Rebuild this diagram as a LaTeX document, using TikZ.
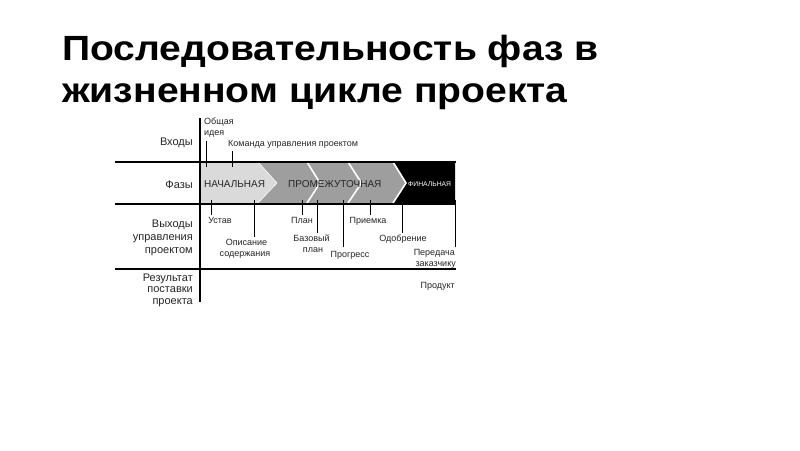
\documentclass[tikz,border=0pt]{standalone}
\usepackage{fontspec}
\setmainfont{Liberation Sans}
\definecolor{lightph}{RGB}{218,218,218}
\definecolor{midph}{RGB}{158,158,158}
\begin{document}
\begin{tikzpicture}[x=1pt,y=-1pt,
  title/.style={font=\fontsize{35}{37}\selectfont\bfseries, inner sep=0pt, anchor=base west},
  rowlbl/.style={font=\fontsize{11}{12}\selectfont, inner sep=0pt, anchor=base east, text=black!85},
  small/.style={font=\fontsize{9}{10}\selectfont, inner sep=0pt, anchor=base, text=black!85},
  phase/.style={font=\fontsize{10}{11}\selectfont, inner sep=0pt, anchor=base west, text=black!85},
  tickline/.style={line width=1pt, black},
  thick rule/.style={line width=2pt, black},
  thin rule/.style={line width=1.3pt, black},
  chev/.style={white, line width=1.6pt}]
\useasboundingbox[fill=white] (0,0) rectangle (800,450);

% title
\node[title] (t1) at (62,60) {\scalebox{1.117}[1]{Последовательность фаз в}};
\node[title] (t2) at (62,102) {\scalebox{1.117}[1]{жизненном цикле проекта}};

% phase band
\fill[lightph] (200,162) -- (258,162) -- (277,183) -- (258,203) -- (200,203) -- cycle;
\fill[midph] (258,162) -- (393,162) -- (406,183) -- (393,203) -- (258,203) -- (277,183) -- cycle;
\fill[black] (393,162) -- (455,162) -- (455,203) -- (393,203) -- (406,183) -- cycle;
\draw[white, line width=0.6pt] (258,162) -- (277,183) -- (258,203);
\draw[chev] (307,162) -- (320,183) -- (307,203);
\draw[chev] (348,162) -- (361.5,183) -- (348,203);
\draw[chev] (393,162) -- (406,183) -- (393,203);

% rules
\coordinate (r1a) at (115,161.5); \coordinate (r1b) at (456,161.5);
\coordinate (r2a) at (115,204);   \coordinate (r2b) at (456,204);
\coordinate (r3a) at (115,269);   \coordinate (r3b) at (456,269);
\coordinate (va) at (200,118);    \coordinate (vb) at (200,302);
\draw[thick rule] (r1a) -- (r1b);
\draw[thick rule] (r2a) -- (r2b);
\draw[thin rule] (r3a) -- (r3b);
\draw[thin rule] (va) -- (vb);

% row labels
\node[rowlbl] (inp) at (193,145) {Входы};
\node[rowlbl] (fz) at (193,188) {Фазы};
\node[rowlbl] (o1) at (193,227) {Выходы};
\node[rowlbl] (o2) at (193,240) {управления};
\node[rowlbl] (o3) at (193,253) {проектом};
\node[rowlbl] (p1) at (193,281) {Результат};
\node[rowlbl] (p2) at (193,292.5) {поставки};
\node[rowlbl] (p3) at (193,304) {проекта};

% phase labels
\node[phase] (ph1) at (204,187.5) {НАЧАЛЬНАЯ};
\node[phase] (ph2) at (288,187.5) {ПРОМЕЖУТОЧНАЯ};
\node[font=\fontsize{6.8}{7}\selectfont, inner sep=0pt, anchor=base west, text=white] (ph3) at (408,186.5) {ФИНАЛЬНАЯ};

% inputs
\node[small, anchor=base west] (idea1) at (204,124.5) {Общая};
\node[small, anchor=base west] (idea2) at (204,135.5) {идея};
\node[small, anchor=base west] (team) at (228,146.5) {Команда управления проектом};
\coordinate (ideaT) at (206,141); \coordinate (ideaB) at (206,167);
\coordinate (teamT) at (232,151); \coordinate (teamB) at (232,167);
\draw[tickline] (ideaT) -- (ideaB);
\draw[tickline] (teamT) -- (teamB);

% outputs
\node[small] (ust) at (220,223.5) {Устав};
\node[small] (opis1) at (246.5,245.5) {Описание};
\node[small] (opis2) at (245,256) {содержания};
\node[small] (plan) at (302,223.5) {План};
\node[small] (baz1) at (311.5,241.5) {Базовый};
\node[small] (baz2) at (313,252.5) {план};
\node[small] (prog) at (350,257) {Прогресс};
\node[small] (prie) at (368,223.5) {Приемка};
\node[small] (odob) at (403,241.5) {Одобрение};
\node[small, anchor=base east] (per1) at (455,255.5) {Передача};
\node[small, anchor=base east] (per2) at (456,266) {заказчику};
\node[small, anchor=base east] (prod) at (455,288.5) {Продукт};

\foreach \nm/\x/\y in {u/211/215, o/254/237, pl/302/215, b/317/233, pr/343/247, pm/370/215, od/402/233, pe/455/247}{
  \coordinate (\nm T) at (\x,200);
  \coordinate (\nm B) at (\x,\y);
  \draw[tickline] (\nm T) -- (\nm B);
}
\end{tikzpicture}
\end{document}
